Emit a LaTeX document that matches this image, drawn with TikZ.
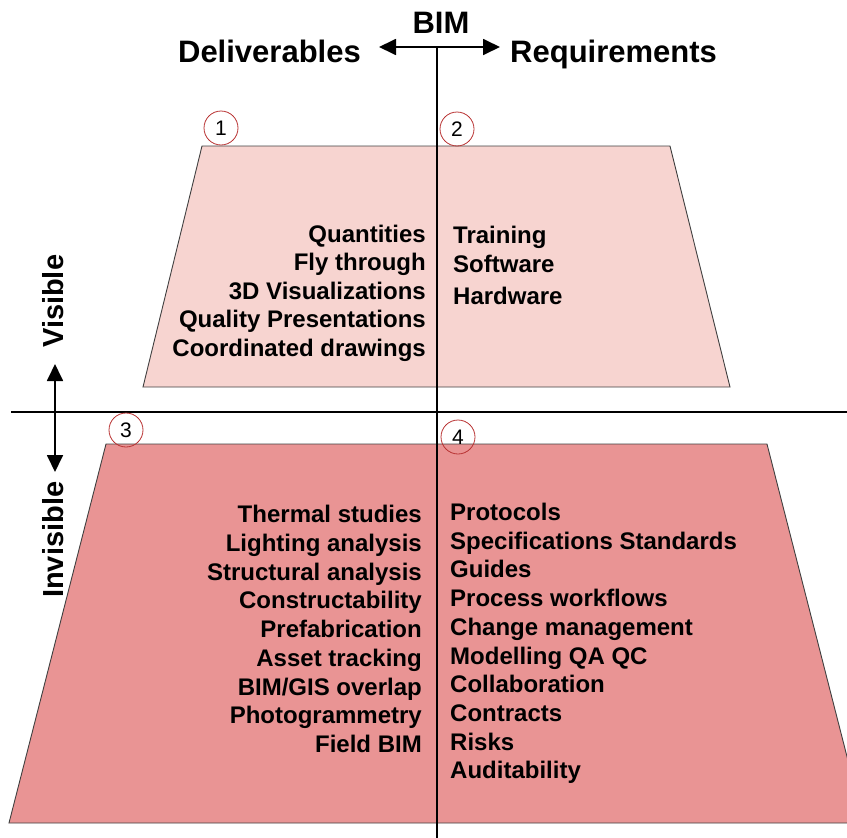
\documentclass[tikz,border=0pt]{standalone}
\usepackage{fontspec}
\setmainfont{Liberation Sans}
\usetikzlibrary{arrows.meta}
\definecolor{upperfill}{HTML}{F7D4D0}
\definecolor{lowerfill}{HTML}{E99494}
\definecolor{circred}{HTML}{B83232}
\begin{document}
\begin{tikzpicture}[x=1pt,y=-1pt,
  item/.style={font=\fontsize{24}{28}\selectfont\bfseries, inner sep=0pt},
  head/.style={font=\fontsize{31}{36}\selectfont\bfseries, inner sep=0pt},
  side/.style={font=\fontsize{29}{34}\selectfont\bfseries, inner sep=0pt, rotate=90},
  num/.style={circle, draw=circred, line width=0.8pt, minimum size=34pt, inner sep=0pt, font=\fontsize{21}{24}\selectfont},
  trap/.style={draw=black!75, line width=0.9pt},
  axis/.style={line width=1.4pt},
  dbl/.style={line width=1.8pt, {Triangle[length=17pt,width=16pt]}-{Triangle[length=17pt,width=16pt]}}]
\useasboundingbox (0,0) rectangle (847,838);
\begin{scope}
  \clip (0,0) rectangle (847,838);
  \path[trap, fill=upperfill] (202,146) -- (670,146) -- (730,387) -- (143,387) -- cycle;
  \path[trap, fill=lowerfill] (106,444) -- (767,444) -- (864,823) -- (9,823) -- cycle;
\end{scope}
% axes
\coordinate (vtop) at (437,47);
\coordinate (vbot) at (437,838);
\coordinate (hl) at (11,412);
\coordinate (hr) at (847,412);
\draw[axis] (vtop) -- (vbot);
\draw[axis] (hl) -- (hr);
\coordinate (al) at (379,47);
\coordinate (ar) at (500,47);
\draw[dbl] (al) -- (ar);
\coordinate (vu) at (55,364);
\coordinate (vd) at (55,472);
\draw[dbl] (vu) -- (vd);
% headings
\node[head, anchor=base] (bim) at (441,33) {BIM};
\node[head, anchor=base east] (deliv) at (361,62) {Deliverables};
\node[head, anchor=base west] (req) at (510,62) {Requirements};
\node[side, anchor=base west] (vis) at (63,348) {Visible};
\node[side, anchor=base west] (invis) at (63,598) {Invisible};
% circles
\node[num] (c1) at (221,128) {1};
\node[num] (c2) at (457,129) {2};
\node[num] (c3) at (126,430) {3};
\node[num] (c4) at (458,437) {4};
% upper left
\foreach \t [count=\i] in {Quantities,Fly through,3D Visualizations,Quality Presentations,Coordinated drawings}
  \node[item, anchor=base east] (ul\i) at (426,{242+28.6*(\i-1)}) {\t};
% upper right
\node[item, anchor=base west] (ur1) at (453,243) {Training};
\node[item, anchor=base west] (ur2) at (453,272) {Software};
\node[item, anchor=base west] (ur3) at (453,304) {Hardware};
% lower left
\foreach \t [count=\i] in {Thermal studies,Lighting analysis,Structural analysis,Constructability,Prefabrication,Asset tracking,BIM/GIS overlap,Photogrammetry,Field BIM}
  \node[item, anchor=base east] (ll\i) at (422,{522.5+28.75*(\i-1)}) {\t};
% lower right
\foreach \t [count=\i] in {Protocols,Specifications Standards,Guides,Process workflows,Change management,Modelling QA QC,Collaboration,Contracts,Risks,Auditability}
  \node[item, anchor=base west] (lr\i) at (450,{520.5+28.7*(\i-1)}) {\t};
\end{tikzpicture}
\end{document}
